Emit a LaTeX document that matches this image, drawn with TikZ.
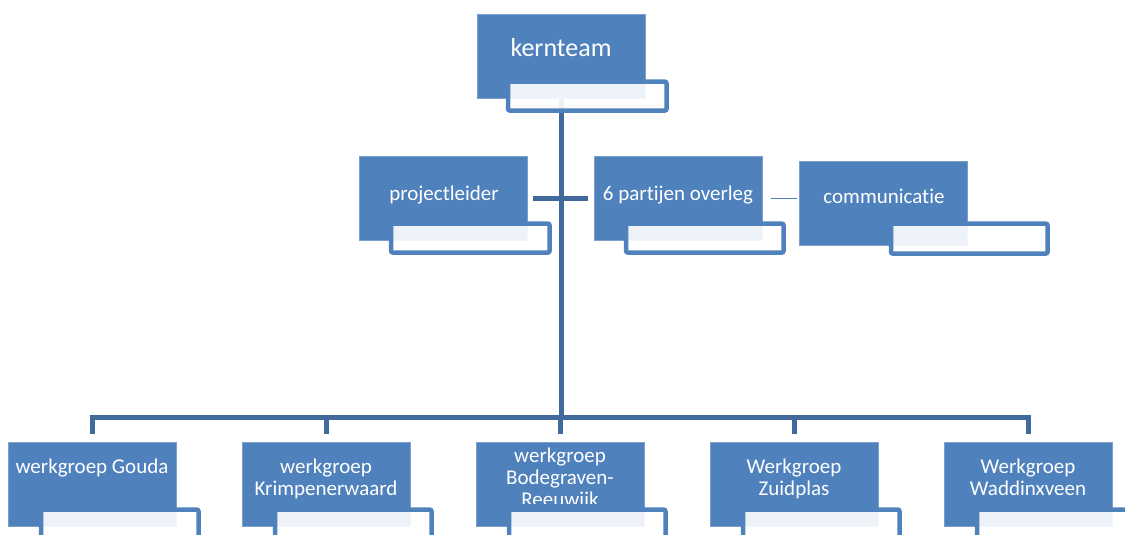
\documentclass[tikz,border=0pt]{standalone}
\usepackage{fontspec}
\setmainfont{Carlito}[Ligatures={NoCommon,NoRare}]
\usetikzlibrary{calc}
\definecolor{boxblue}{HTML}{4F81BD}
\definecolor{lineblue}{HTML}{41699C}
\begin{document}
\begin{tikzpicture}[x=1pt,y=-1pt,
  mainbox/.style={rectangle, fill=boxblue, draw=boxblue!75!white, line width=0.6pt,
    minimum width=168pt, minimum height=84pt, inner sep=0pt, anchor=north west},
  boxtext/.style={text=white, inner sep=0pt, anchor=base, font=\fontsize{21}{22}\selectfont},
  subbox/.style={draw=boxblue, line width=4.5pt, fill=white, fill opacity=0.9,
    draw opacity=1, rounded corners=2pt},
  conn/.style={draw=lineblue, line width=5pt, line join=miter},
  thinconn/.style={draw=boxblue, line width=1.5pt}]
\useasboundingbox (0,0) rectangle (1125,535);
\clip (0,0) rectangle (1125,535);

% main boxes
\node[mainbox] (kt) at (477,14) {};
\node[mainbox] (pl) at (359,156) {};
\node[mainbox] (po) at (594,156) {};
\node[mainbox] (cm) at (799,161) {};
\node[mainbox] (g1) at (8,442) {};
\node[mainbox] (g2) at (242,442) {};
\node[mainbox] (g3) at (476,442) {};
\node[mainbox] (g4) at (710,442) {};
\node[mainbox] (g5) at (944,442) {};

% texts
\node[boxtext, font=\fontsize{26}{30}\selectfont] (kt-t) at (561,57) {kernteam};
\node[boxtext] (pl-t) at (444,200) {projectleider};
\node[boxtext] (po-t) at (678,200) {6 partijen overleg};
\node[boxtext] (cm-t) at (884,203) {communicatie};
\node[boxtext] (g1-t) at (92,473) {werkgroep Gouda};
\node[boxtext] (g2-t) at (326,473) {\begin{tabular}[t]{@{}c@{}}werkgroep\\Krimpenerwaard\end{tabular}};
\begin{scope}
  \clip (g3.north west) rectangle ($(g3.north east)+(0,61)$);
  \node[boxtext, font=\fontsize{21}{22}\selectfont] (g3-t) at (560,462) {\begin{tabular}[t]{@{}c@{}}werkgroep\\Bodegraven-\\Reeuwijk\end{tabular}};
\end{scope}
\node[boxtext, font=\fontsize{21}{22.5}\selectfont] (g4-t) at (794,473) {\begin{tabular}[t]{@{}c@{}}Werkgroep\\Zuidplas\end{tabular}};
\node[boxtext, font=\fontsize{21}{22.5}\selectfont] (g5-t) at (1028,473) {\begin{tabular}[t]{@{}c@{}}Werkgroep\\Waddinxveen\end{tabular}};

% connectors
\coordinate (bus) at (561,417);
\draw[conn] (kt.south) -- (kt.south |- bus);
\draw[conn] ([xshift=5pt]pl.east) -- ([xshift=-6pt]po.west);
\draw[thinconn] ([xshift=8pt]po.east) -- ($(po.east -| cm.west)+(-2,0)$);
\draw[conn] ([yshift=8pt]g1.north) -- (g1.north |- bus) -- (g5.north |- bus) -- ([yshift=8pt]g5.north);
\draw[conn] ([yshift=8pt]g2.north) -- (g2.north |- bus);
\draw[conn] ([yshift=8pt]g3.north) -- (g3.north |- bus);
\draw[conn] ([yshift=8pt]g4.north) -- (g4.north |- bus);

% sub boxes
\draw[subbox] ($(kt.south west)+(31,-17)$) rectangle ($(kt.south east)+(21,12)$);
\draw[subbox] ($(pl.south west)+(32,-17)$) rectangle ($(pl.south east)+(22,12)$);
\draw[subbox] ($(po.south west)+(32,-17)$) rectangle ($(po.south east)+(21,12)$);
\draw[subbox] ($(cm.south west)+(92,-22)$) rectangle ($(cm.south east)+(80,8)$);
\draw[subbox] ($(g1.south west)+(33,-17)$) rectangle ($(g1.south east)+(22,12)$);
\draw[subbox] ($(g2.south west)+(33,-17)$) rectangle ($(g2.south east)+(21,12)$);
\draw[subbox] ($(g3.south west)+(33,-17)$) rectangle ($(g3.south east)+(21,12)$);
\draw[subbox] ($(g4.south west)+(33,-17)$) rectangle ($(g4.south east)+(21,12)$);
\draw[subbox] ($(g5.south west)+(33,-17)$) rectangle ($(g5.south east)+(21,12)$);
\end{tikzpicture}
\end{document}
